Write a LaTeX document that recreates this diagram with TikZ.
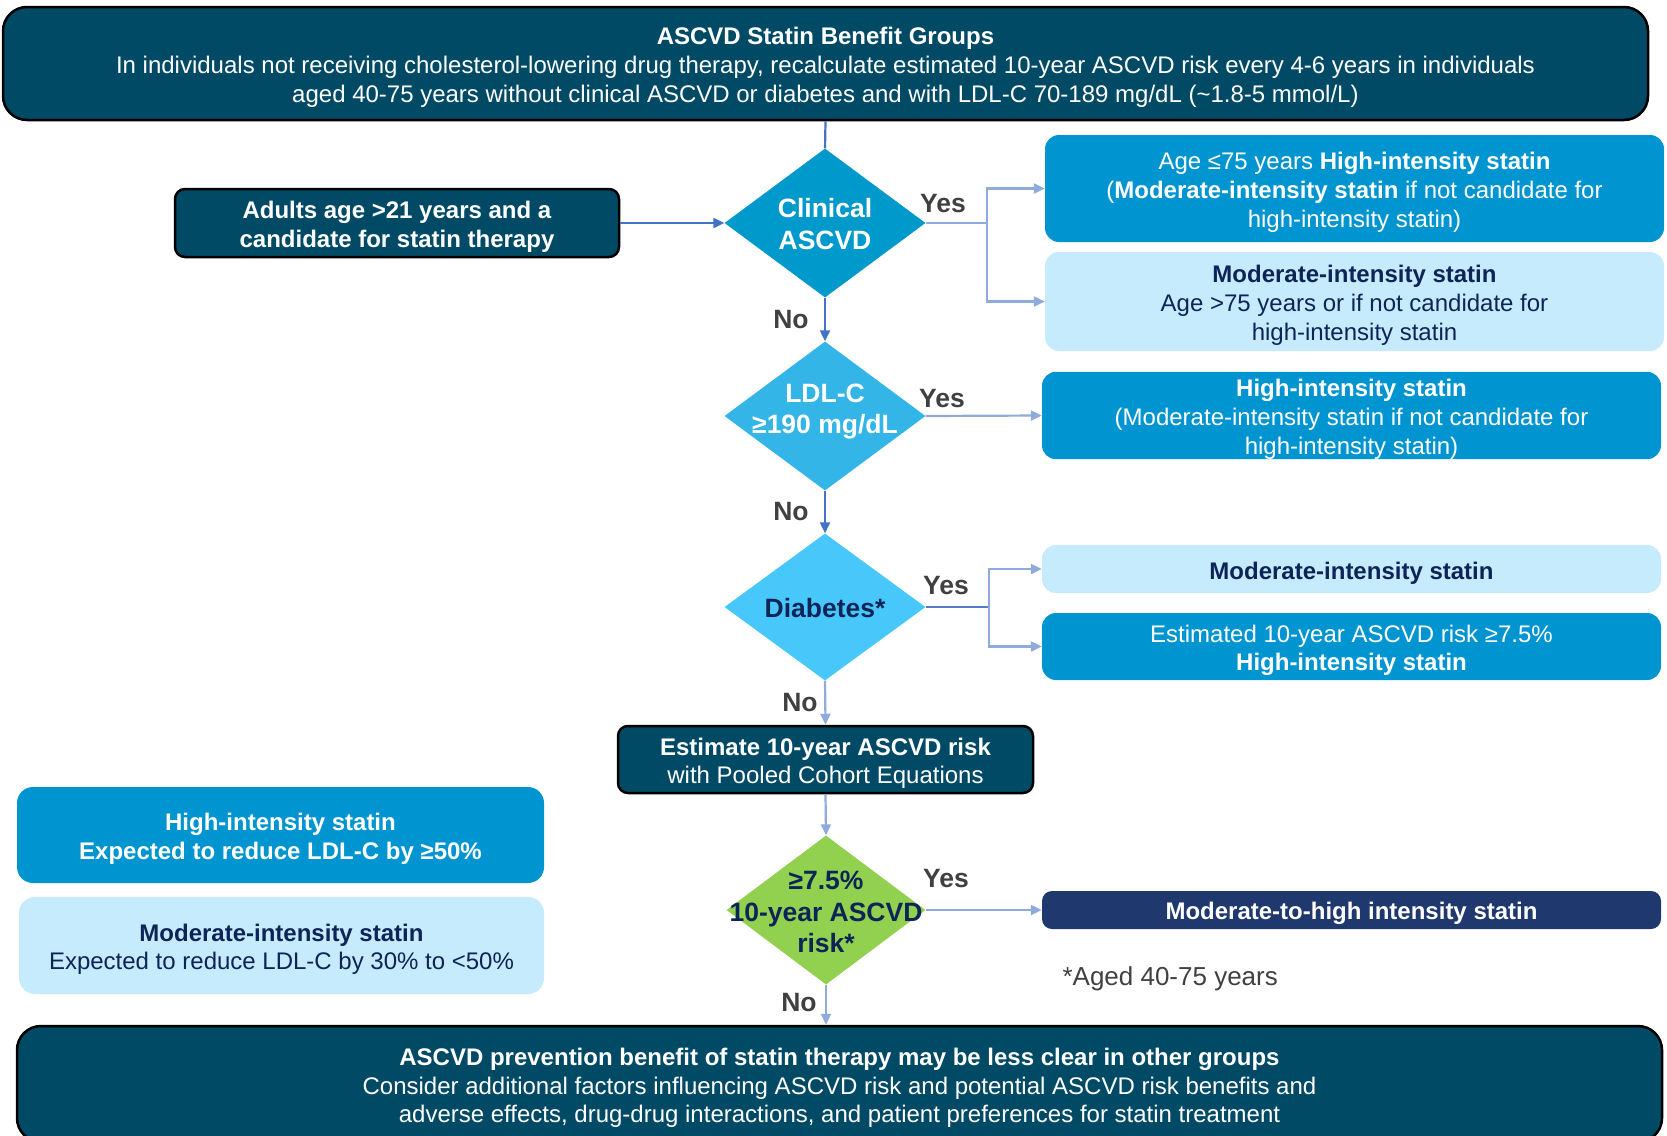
\documentclass[tikz,border=0pt]{standalone}
\usepackage{fontspec}
\setmainfont{Liberation Sans}
\usetikzlibrary{shapes.geometric,arrows.meta,positioning}

\definecolor{tealdark}{RGB}{1,74,102}
\definecolor{boxblue}{RGB}{0,149,208}
\definecolor{boxpale}{RGB}{197,235,252}
\definecolor{boxnavy}{RGB}{31,56,110}
\definecolor{textnavy}{RGB}{13,36,87}
\definecolor{dmone}{RGB}{0,153,204}
\definecolor{dmtwo}{RGB}{51,181,232}
\definecolor{dmthree}{RGB}{72,200,250}
\definecolor{dmgreen}{RGB}{146,208,80}
\definecolor{arrowdark}{RGB}{68,114,196}
\definecolor{arrowlight}{RGB}{143,170,220}
\definecolor{labelgray}{RGB}{64,64,64}

\newcommand{\boxstrut}{\rule{0pt}{25pt}}

\begin{document}
\begin{tikzpicture}[x=1pt, y=-1pt,
  font=\fontsize{24}{28.7}\selectfont,
  boxtext/.style={align=center, inner sep=0pt},
  darkbox/.style={boxtext, draw=black, line width=2.5pt, fill=tealdark, rounded corners=16pt, text=white},
  bluebox/.style={boxtext, fill=boxblue, rounded corners=14pt, text=white},
  palebox/.style={boxtext, fill=boxpale, rounded corners=14pt, text=textnavy},
  decision/.style={diamond, inner sep=0pt, minimum width=201pt, minimum height=149pt},
  dtext/.style={font=\fontsize{26.5}{31.5}\selectfont\bfseries, align=center},
  yesno/.style={font=\fontsize{26.5}{30}\selectfont\bfseries, text=labelgray},
  mainarrow/.style={draw=arrowdark, line width=2.2pt, -{Triangle[length=11pt,width=10pt]}},
  sidearrow/.style={draw=arrowlight, line width=2.2pt, -{Triangle[length=11pt,width=10pt]}}]

\useasboundingbox (0,0) rectangle (1667,1135);

%boxes
	\node[darkbox, rounded corners=24pt, minimum width=1645pt, minimum height=113pt] (top) at (825.5,63.5)
		{\boxstrut\textbf{ASCVD Statin Benefit Groups}\\
		In individuals not receiving cholesterol-lowering drug therapy, recalculate estimated 10-year ASCVD risk every 4-6 years in individuals\\
		aged 40-75 years without clinical ASCVD or diabetes and with LDL-C 70-189 mg/dL (\textasciitilde1.8-5 mmol/L)};
	\node[darkbox, rounded corners=10pt, minimum width=444pt, minimum height=68pt] (adults) at (397,223)
		{\boxstrut\textbf{Adults age >21 years and a}\\\textbf{candidate for statin therapy}};

	\node[bluebox, minimum width=619pt, minimum height=107pt] (hiage) at (1354.5,188.5)
		{\boxstrut Age ≤75 years \textbf{High-intensity statin}\\
		(\textbf{Moderate-intensity statin} if not candidate for\\high-intensity statin)};
	\node[palebox, minimum width=619pt, minimum height=99pt] (modage) at (1354.5,301.5)
		{\boxstrut\textbf{Moderate-intensity statin}\\Age >75 years or if not candidate for\\high-intensity statin};
	\node[bluebox, minimum width=619pt, minimum height=87pt] (hildl) at (1351.5,415.5)
		{\boxstrut\textbf{High-intensity statin}\\(Moderate-intensity statin if not candidate for\\high-intensity statin)};
	\node[palebox, minimum width=619pt, minimum height=48pt] (moddia) at (1351.5,569)
		{\boxstrut\textbf{Moderate-intensity statin}};
	\node[bluebox, minimum width=619pt, minimum height=67pt] (hidia) at (1351.5,646.5)
		{\boxstrut Estimated 10-year ASCVD risk ≥7.5\%\\\textbf{High-intensity statin}};

	\node[darkbox, rounded corners=10pt, minimum width=415pt, minimum height=67pt] (estim) at (825.5,759.5)
		{\boxstrut\textbf{Estimate 10-year ASCVD risk}\\with Pooled Cohort Equations};
	\node[bluebox, rounded corners=10pt, minimum width=619pt, minimum height=38pt, fill=boxnavy] (modhigh) at (1351.5,910)
		{\boxstrut\textbf{Moderate-to-high intensity statin}};

	\node[bluebox, rounded corners=16pt, minimum width=527pt, minimum height=96pt] (keyhi) at (280.5,835)
		{\boxstrut\textbf{High-intensity statin}\\\textbf{Expected to reduce LDL-C by ≥50\%}};
	\node[palebox, rounded corners=16pt, minimum width=525pt, minimum height=97pt] (keymod) at (281.5,945.5)
		{\boxstrut\textbf{Moderate-intensity statin}\\Expected to reduce LDL-C by 30\% to <50\%};

	\node[darkbox, rounded corners=24pt, minimum width=1645pt, minimum height=116pt] (bottom) at (839.5,1084)
		{\boxstrut\textbf{ASCVD prevention benefit of statin therapy may be less clear in other groups}\\
		Consider additional factors influencing ASCVD risk and potential ASCVD risk benefits and\\
		adverse effects, drug-drug interactions, and patient preferences for statin treatment};

	\node[text=labelgray, anchor=west, font=\fontsize{26}{30}\selectfont] (note) at (1059,979) {*Aged 40-75 years};

%diamonds
	\node[decision, fill=dmone] (clin) at (825,223) {};
	\node[dtext, text=white] (clintext) at (825,224) {Clinical\\ASCVD};
	\node[decision, fill=dmtwo] (ldl) at (825,416) {};
	\node[dtext, text=white] (ldltext) at (825,411.5) {LDL-C\\≥190 mg/dL};
	\node[decision, fill=dmthree, minimum height=147pt] (diab) at (825,607) {};
	\node[dtext, text=textnavy] (diabtext) at (825,608) {Diabetes*};
	\node[decision, fill=dmgreen, minimum width=199pt] (risk) at (826,910) {};
	\node[dtext, text=textnavy] (risktext) at (826,912) {≥7.5\%\\10-year ASCVD\\risk*};

%yes / no
	\foreach \xy/\name/\txt in {{(943,204)/yesclin/Yes},{(942,399)/yesldl/Yes},{(946,586)/yesdiab/Yes},{(946,879)/yesrisk/Yes},
		{(791,320)/noclin/No},{(791,512)/noldl/No},{(800,703)/nodiab/No},{(799,1002)/norisk/No}} {
		\node[yesno] (\name) at \xy {\txt};
	}

%connectors
	\coordinate (forkclin) at (987,223);
	\coordinate (forkdiab) at (989,607);

	\draw[arrowdark, line width=2.2pt] (top.south) -- (clin.north);
	\draw[mainarrow] (adults.east) -- (clin.west);
	\draw[mainarrow] (clin.south) -- (ldl.north);
	\draw[mainarrow] (ldl.south) -- (diab.north);

	\draw[arrowlight, line width=2.2pt] (clin.east) -- (forkclin);
	\draw[sidearrow] (forkclin) |- (hiage.west);
	\draw[sidearrow] (forkclin) |- (modage.west);
	\draw[sidearrow] (ldl.east) -- (hildl.west);

	\draw[arrowdark!80!arrowlight, line width=2.2pt] (diab.east) -- (forkdiab);
	\draw[sidearrow] (forkdiab) |- (moddia.west);
	\draw[sidearrow] (forkdiab) |- (hidia.west);

	\draw[sidearrow] (diab.south) -- (estim.north);
	\draw[sidearrow] (estim.south) -- (risk.north);
	\draw[sidearrow] (risk.east) -- (modhigh.west);
	\draw[sidearrow] (risk.south) -- (risk.south |- bottom.north);

\end{tikzpicture}
\end{document}
